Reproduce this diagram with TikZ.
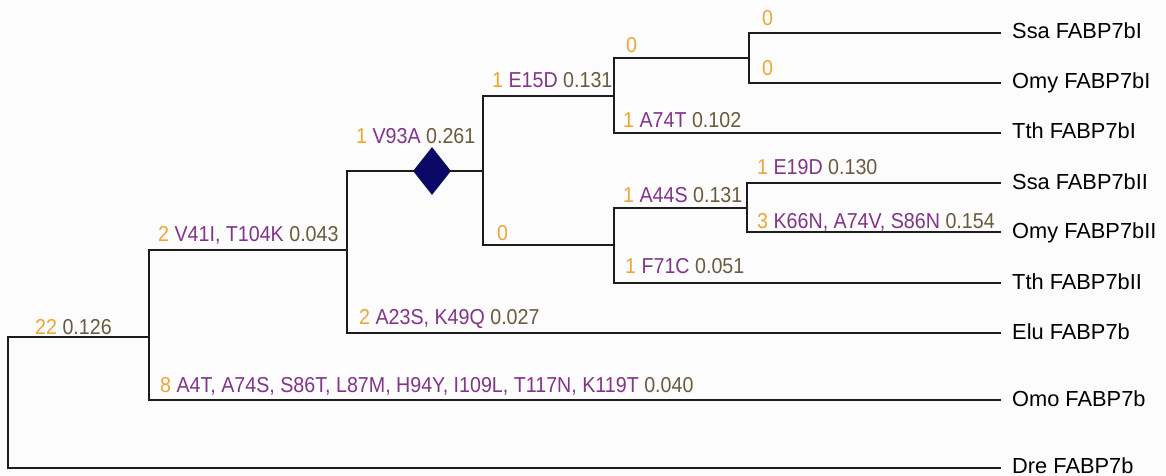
\documentclass[tikz,border=0pt]{standalone}
\usepackage{fontspec}
\setmainfont{Liberation Sans}
\newfontfamily\narrowsans[FakeStretch=0.91]{Liberation Sans}
\usepackage{xcolor}
\usepackage{tikz}
\usetikzlibrary{shapes.geometric}
\definecolor{bg}{HTML}{FCFCFC}
\definecolor{edge}{HTML}{1C1C1C}
\definecolor{count}{HTML}{F0A535}
\definecolor{subst}{HTML}{82348A}
\definecolor{blen}{HTML}{6B5A3C}
\definecolor{navy}{HTML}{0A0A66}
\tikzset{
  branch/.style={draw=edge, line width=1.8pt, line cap=rect, line join=miter},
  leaf/.style={anchor=west, inner xsep=12pt, inner ysep=0pt, text height=14pt, text depth=2pt, text=black, font=\fontsize{21.8pt}{24pt}\selectfont},
  blab/.style={anchor=base west, inner sep=0pt, font=\narrowsans\fontsize{21.6pt}{24pt}\selectfont},
  zero/.style={blab, text=count},
  dupmark/.style={diamond, fill=navy, inner sep=0pt, minimum width=38pt, minimum height=48pt},
}
\newcommand{\brlab}[3]{\textcolor{count}{#1} \textcolor{subst}{#2} \textcolor{blen}{#3}}

\begin{document}
\begin{tikzpicture}[x=1pt, y=-1pt]
  \fill[bg] (0,0) rectangle (1166,476);
  \useasboundingbox (0,0) rectangle (1166,476);
  \def\xend{1000}
  % inner nodes, on their vertical bars
  \coordinate (root) at (8,337);
  \coordinate (n2) at (149,337);
  \coordinate (n3) at (347,250);
  \coordinate (n4) at (483,171);
  \coordinate (n5) at (614,96);
  \coordinate (n6) at (614,245);
  \coordinate (n7) at (749,58);
  \coordinate (n8) at (747,208);
  % tips
  \node[leaf] (ssa1) at (\xend,33) {Ssa FABP7bI};
  \node[leaf] (omy1) at (\xend,83) {Omy FABP7bI};
  \node[leaf] (tth1) at (\xend,133) {Tth FABP7bI};
  \node[leaf] (ssa2) at (\xend,183) {Ssa FABP7bII};
  \node[leaf] (omy2) at (\xend,232) {Omy FABP7bII};
  \node[leaf] (tth2) at (\xend,283) {Tth FABP7bII};
  \node[leaf] (elu) at (\xend,333) {Elu FABP7b};
  \node[leaf] (omo) at (\xend,400) {Omo FABP7b};
  \node[leaf, text depth=4pt] (dre) at (\xend,468) {Dre FABP7b};
  % branches
  \draw[branch] (root) -- (n2);
  \draw[branch] (root) |- (dre.west);
  \draw[branch] (n2) |- (n3);
  \draw[branch] (n2) |- (omo.west);
  \draw[branch] (n3) |- (n4);
  \draw[branch] (n3) |- (elu.west);
  \draw[branch] (n4) |- (n5);
  \draw[branch] (n4) |- (n6);
  \draw[branch] (n5) |- (n7);
  \draw[branch] (n5) |- (tth1.west);
  \draw[branch] (n7) |- (ssa1.west);
  \draw[branch] (n7) |- (omy1.west);
  \draw[branch] (n6) |- (n8);
  \draw[branch] (n6) |- (tth2.west);
  \draw[branch] (n8) |- (ssa2.west);
  \draw[branch] (n8) |- (omy2.west);
  \node[dupmark] (dup) at (432,171) {};
  % branch labels
  \node[blab] (lroot) at (35,334) {\textcolor{count}{22} \textcolor{blen}{0.126}};
  \node[blab] (ln3) at (158,241) {\brlab{2}{V41I, T104K}{0.043}};
  \node[blab] (lomo) at (160,392) {\brlab{8}{A4T, A74S, S86T, L87M, H94Y, I109L, T117N, K119T}{0.040}};
  \node[blab] (ln4) at (356,143) {\brlab{1}{V93A}{0.261}};
  \node[blab] (lelu) at (359,324) {\brlab{2}{A23S, K49Q}{0.027}};
  \node[blab] (ln5) at (492,88) {\brlab{1}{E15D}{0.131}};
  \node[zero] (ln6) at (497,240) {0};
  \node[zero] (ln7) at (626,53) {0};
  \node[blab] (ltth1) at (623,128) {\brlab{1}{A74T}{0.102}};
  \node[blab] (ln8) at (623,202) {\brlab{1}{A44S}{0.131}};
  \node[blab] (ltth2) at (625,273) {\brlab{1}{F71C}{0.051}};
  \node[zero] (lssa1) at (762,26) {0};
  \node[zero] (lomy1) at (762,76) {0};
  \node[blab] (lssa2) at (757,174) {\brlab{1}{E19D}{0.130}};
  \node[blab] (lomy2) at (757,228) {\brlab{3}{K66N, A74V, S86N}{0.154}};
\end{tikzpicture}
\end{document}
